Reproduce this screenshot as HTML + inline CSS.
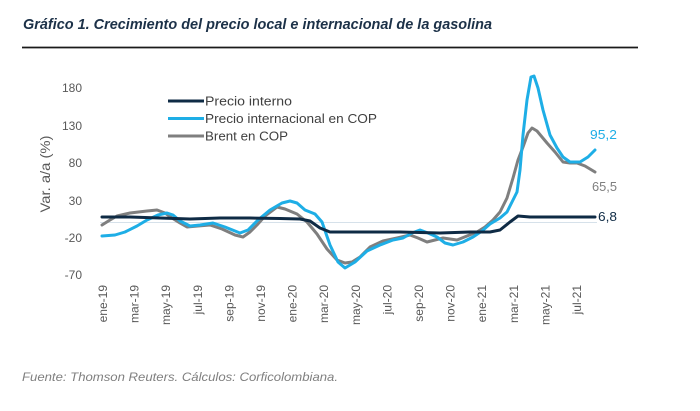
<!DOCTYPE html>
<html>
<head>
<meta charset="utf-8">
<style>
  html, body { margin: 0; padding: 0; background: #ffffff; }
  svg { display: block; }
  text { font-family: "Liberation Sans", "DejaVu Sans", sans-serif; }
</style>
</head>
<body>
<svg width="700" height="411" viewBox="0 0 700 411" xmlns="http://www.w3.org/2000/svg">
  <rect x="0" y="0" width="700" height="411" fill="#ffffff"/>

  <!-- Title -->
  <text x="23" y="29" font-size="15" font-style="italic" font-weight="bold" fill="#1c3148" textLength="469" lengthAdjust="spacingAndGlyphs">Gráfico 1. Crecimiento del precio local e internacional de la gasolina</text>
  <line x1="22" y1="47.5" x2="638" y2="47.5" stroke="#1a1a1a" stroke-width="1.8"/>

  <!-- Y axis title -->
  <text transform="translate(50,174) rotate(-90)" text-anchor="middle" font-size="14" fill="#595959" textLength="77" lengthAdjust="spacingAndGlyphs">Var. a/a (%)</text>

  <!-- Y tick labels -->
  <g font-size="12" fill="#595959" text-anchor="end">
    <text x="82" y="92">180</text>
    <text x="82" y="130">130</text>
    <text x="82" y="167">80</text>
    <text x="82" y="205">30</text>
    <text x="82" y="242">-20</text>
    <text x="82" y="279">-70</text>
  </g>

  <!-- zero line -->
  <line x1="100" y1="222.5" x2="597" y2="222.5" stroke="#d6e1ea" stroke-width="1"/>

  <!-- X tick labels -->
  <g font-size="12" fill="#595959" text-anchor="end">
    <text transform="translate(107,285) rotate(-90)">ene-19</text>
    <text transform="translate(138.6,285) rotate(-90)">mar-19</text>
    <text transform="translate(170.2,285) rotate(-90)">may-19</text>
    <text transform="translate(201.8,285) rotate(-90)">jul-19</text>
    <text transform="translate(233.4,285) rotate(-90)">sep-19</text>
    <text transform="translate(265,285) rotate(-90)">nov-19</text>
    <text transform="translate(296.6,285) rotate(-90)">ene-20</text>
    <text transform="translate(328.2,285) rotate(-90)">mar-20</text>
    <text transform="translate(359.8,285) rotate(-90)">may-20</text>
    <text transform="translate(391.4,285) rotate(-90)">jul-20</text>
    <text transform="translate(423,285) rotate(-90)">sep-20</text>
    <text transform="translate(454.6,285) rotate(-90)">nov-20</text>
    <text transform="translate(486.2,285) rotate(-90)">ene-21</text>
    <text transform="translate(517.8,285) rotate(-90)">mar-21</text>
    <text transform="translate(549.4,285) rotate(-90)">may-21</text>
    <text transform="translate(581,285) rotate(-90)">jul-21</text>
  </g>

  <!-- Series: Brent en COP (gray) -->
  <polyline fill="none" stroke="#7f7f7f" stroke-width="3" stroke-linejoin="round" stroke-linecap="round"
    points="102,225 110,220 117,216 130,213 147,211 157,210 165,213 172,218 180,223 187,227 198,226 210,225 222,229 235,235 243,237 250,232 257,225 265,216 277,207 285,209 297,214 307,222 317,234 327,249 337,260 345,263 352,262 360,257 370,247 383,241 397,238 410,235 418,238 427,242 435,240 443,238 457,240 467,236 477,232 485,227 493,220 500,212 507,198 513,178 518,160 523,147 528,133 532,128 537,131 547,143 555,152 563,162 570,163 577,163 585,166 595,172"/>

  <!-- Series: Precio internacional en COP (light blue) -->
  <polyline fill="none" stroke="#1eaee6" stroke-width="3" stroke-linejoin="round" stroke-linecap="round"
    points="102,236 115,235 125,232 137,226 147,220 158,215 167,213 173,215 180,221 190,226 200,225 213,223 225,227 240,233 248,230 258,220 270,210 282,203 290,201 297,203 305,210 315,214 322,222 330,245 338,262 345,268 355,262 367,251 380,245 393,240 403,238 412,233 420,230 428,233 437,237 445,243 453,245 463,242 473,237 482,231 490,224 500,218 507,212 513,200 517,192 520,170 523,135 527,100 531,77 534,76 538,88 543,110 550,135 557,148 563,157 570,162 580,162 588,157 595,150"/>

  <!-- Series: Precio interno (navy) -->
  <polyline fill="none" stroke="#0f2b45" stroke-width="3" stroke-linejoin="round" stroke-linecap="round"
    points="102,217 130,217 160,218 190,219 220,218 250,218 280,218.5 300,219 310,221 320,228 330,232 360,232 400,232 440,233 470,232 490,232 500,230 510,222 518,216 530,217 560,217 595,217"/>

  <!-- End labels -->
  <text x="590" y="139" font-size="12.5" fill="#1eaee6" textLength="27" lengthAdjust="spacingAndGlyphs">95,2</text>
  <text x="592" y="191" font-size="12.5" fill="#7f7f7f" textLength="25" lengthAdjust="spacingAndGlyphs">65,5</text>
  <text x="598" y="221" font-size="12.5" fill="#0f2b45" textLength="19" lengthAdjust="spacingAndGlyphs">6,8</text>

  <!-- Legend -->
  <line x1="168" y1="101" x2="204" y2="101" stroke="#0f2b45" stroke-width="3"/>
  <line x1="168" y1="118.5" x2="204" y2="118.5" stroke="#1eaee6" stroke-width="3"/>
  <line x1="168" y1="136" x2="204" y2="136" stroke="#7f7f7f" stroke-width="3"/>
  <g font-size="13" fill="#404040">
    <text x="205" y="105.5" textLength="87" lengthAdjust="spacingAndGlyphs">Precio interno</text>
    <text x="205" y="123" textLength="172" lengthAdjust="spacingAndGlyphs">Precio internacional en COP</text>
    <text x="205" y="140.5" textLength="83" lengthAdjust="spacingAndGlyphs">Brent en COP</text>
  </g>

  <!-- Footer -->
  <text x="22" y="381" font-size="12" font-style="italic" fill="#7f7f7f" textLength="316" lengthAdjust="spacingAndGlyphs">Fuente: Thomson Reuters. Cálculos: Corficolombiana.</text>
</svg>
</body>
</html>
